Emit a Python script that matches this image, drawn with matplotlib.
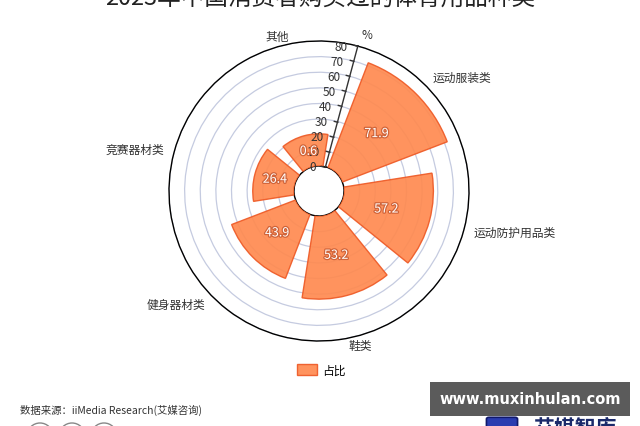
import matplotlib
matplotlib.use('Agg')
import matplotlib.pyplot as plt
import numpy as np
from matplotlib import patheffects as pe
from matplotlib.patches import Rectangle, Ellipse, FancyBboxPatch
from matplotlib.path import Path
from matplotlib.markers import MarkerStyle

plt.rcParams['font.family'] = ['Noto Sans CJK SC', 'DejaVu Sans']

# ---- data ----
categories = ['运动服装类', '运动防护用品类', '鞋类', '健身器材类', '竞赛器材类', '其他']
values = [71.9, 57.2, 53.2, 43.9, 26.4, 20.6]
value_labels = ['71.9', '57.2', '53.2', '43.9', '26.4', '0.6']
radius_ticks = [0, 10, 20, 30, 40, 50, 60, 70, 80]
radius_name = '%'
title = '2023年中国消费者购买过的体育用品种类'
legend_label = '占比'
source = '数据来源：iiMedia Research(艾媒咨询)'
watermark = 'www.muxinhulan.com'

W, H = 640, 427
fig = plt.figure(figsize=(6.4, 4.27), dpi=100)
fig.patch.set_facecolor('white')

cx, cy, R = 319, 192, 150
ax = fig.add_axes([(cx - R) / W, (H - cy - R) / H, 2 * R / W, 2 * R / H], projection='polar')
ax.set_theta_offset(np.deg2rad(75))
ax.set_theta_direction(-1)
ax.set_ylim(0, 80)
ax.set_rorigin(-16)

n = len(categories)
step = 2 * np.pi / n
theta = np.arange(n) * step + step / 2

bar_color = '#FF8A50'
edge_color = '#EE5A26'
bars = ax.bar(theta, values, width=step * 0.8, bottom=0, color=bar_color,
              edgecolor=edge_color, linewidth=1, alpha=0.92, zorder=3)

# radial grid
ax.set_yticks(radius_ticks)
ax.set_yticklabels([])
ax.yaxis.grid(True, color='#c5cbe0', linewidth=0.9)
ax.xaxis.grid(False)
ax.set_xticks(np.arange(n) * step)
ax.set_xticklabels([])
ax.tick_params(axis='x', direction='out', length=5, width=1, color='black')
ax.tick_params(axis='y', length=0)
ax.spines['polar'].set_color('black')
ax.spines['polar'].set_linewidth(1)
ax.spines['inner'].set_color('black')
ax.spines['inner'].set_linewidth(1)

# radius axis line, ticks, labels
ax.plot([0, 0], [0, 80], color='#333333', linewidth=1, zorder=5, clip_on=False)
ang = np.deg2rad(165)
tick_marker = MarkerStyle(Path([(0, 0), (np.cos(ang), np.sin(ang))]))
ax.plot(np.zeros(len(radius_ticks)), radius_ticks, linestyle='none',
        marker=tick_marker, markersize=7, markeredgecolor='#333333',
        markeredgewidth=1, zorder=5, clip_on=False)
for r in radius_ticks:
    ax.annotate(str(r), xy=(0, r), xytext=(-7, 0), textcoords='offset points',
                ha='right', va='center', fontsize=8.5, color='#333333', zorder=6)
ax.text(np.deg2rad(2), 89, radius_name, ha='center', va='center', fontsize=8.5, color='#333333')

# category labels
for t, c in zip(theta, categories):
    a = np.deg2rad(75) - t
    ca = np.cos(a)
    ha = 'left' if ca > 0.3 else ('right' if ca < -0.3 else 'center')
    ax.text(t, 86.6, c, ha=ha, va='center', fontsize=8.5, color='#333333', clip_on=False)

# value labels
for t, v, lab in zip(theta, values, value_labels):
    ax.text(t, v / 2, lab, ha='center', va='center', fontsize=9, color='white',
            zorder=7, path_effects=[pe.withStroke(linewidth=1.8, foreground='#d0643a')])

# title (cut off at top)
fig.text(0.5, 1 + 2 / H, title, ha='center', va='center', fontsize=17, color='#222222')

# legend
fig.legend([bars], [legend_label], loc='center', bbox_to_anchor=(321 / W, 1 - 371 / H),
           frameon=False, fontsize=8.5, handlelength=1.7, handleheight=1.0,
           handletextpad=0.4)

# source
fig.text(20 / W, 1 - 410 / H, source, ha='left', va='center', fontsize=7.5, color='#333333')
for x0 in [40, 72, 104]:
    fig.patches.append(Ellipse((x0 / W, 1 - 437 / H), 26 / W, 26 / H, transform=fig.transFigure,
                               facecolor='none', edgecolor='#888888', linewidth=1))

# watermark box
fig.patches.append(Rectangle((430 / W, 1 - 417 / H), 200 / W, 34 / H, transform=fig.transFigure,
                             facecolor='#5b5b5b', edgecolor='none', zorder=10))
fig.text(530 / W, 1 - 400 / H, watermark, ha='center', va='center', fontsize=10.5,
         fontweight='bold', color='white', family=['DejaVu Sans'], zorder=11)
fig.patches.append(FancyBboxPatch((489 / W, 1 - 432 / H), 26 / W, 12 / H,
                                  boxstyle='round,pad=0.004', transform=fig.transFigure,
                                  facecolor='#2a3cb0', edgecolor='#10186a', linewidth=1.2, zorder=9))
fig.text(575 / W, 1 - 418 / H, '艾媒智库', ha='center', va='top', fontsize=15,
         fontweight='bold', color='#1b2a6b', zorder=9)

fig.savefig('out.png', dpi=100)
